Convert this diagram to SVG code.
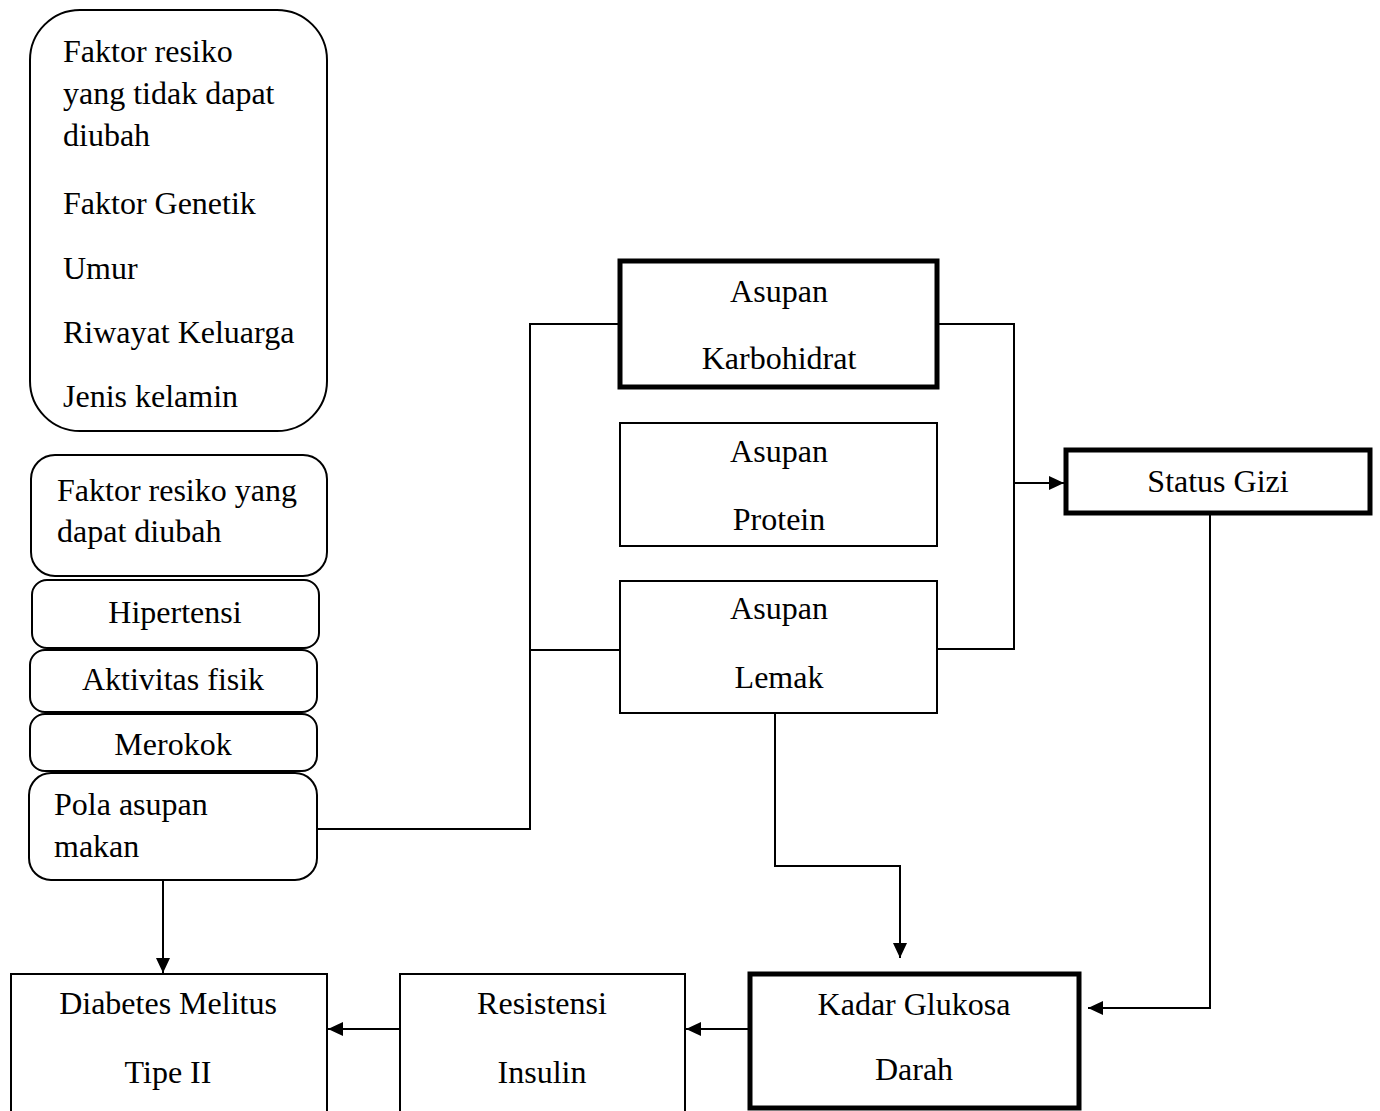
<svg xmlns="http://www.w3.org/2000/svg" width="1380" height="1111" viewBox="0 0 1380 1111">
<style>
.box{fill:#fff;stroke:#000;stroke-width:2}
.thick{fill:#fff;stroke:#000;stroke-width:5}
.t{font-family:"Liberation Serif","Times New Roman",serif;font-size:32px;fill:#000}
.c{text-anchor:middle}
.ln{fill:none;stroke:#000;stroke-width:2}
</style>
<defs>
<marker id="arr" markerUnits="userSpaceOnUse" markerWidth="16" markerHeight="14" refX="15" refY="7" orient="auto">
<path d="M0,0 L15,7 L0,14 Z" fill="#000"/>
</marker>
</defs>
<rect width="1380" height="1111" fill="#fff"/>

<g id="faktor-tidak-diubah">
<rect class="box" x="30" y="10" width="297" height="421" rx="50" ry="50"/>
<text class="t" x="63" y="62">Faktor resiko</text>
<text class="t" x="63" y="104">yang tidak dapat</text>
<text class="t" x="63" y="146">diubah</text>
<text class="t" x="63" y="214">Faktor Genetik</text>
<text class="t" x="63" y="279">Umur</text>
<text class="t" x="63" y="343">Riwayat Keluarga</text>
<text class="t" x="63" y="407">Jenis kelamin</text>
</g>

<g id="faktor-dapat-diubah">
<rect class="box" x="31" y="455" width="296" height="121" rx="24" ry="24"/>
<text class="t" x="57" y="501">Faktor resiko yang</text>
<text class="t" x="57" y="542">dapat diubah</text>
</g>

<g id="hipertensi">
<rect class="box" x="32" y="580" width="287" height="68" rx="15" ry="15"/>
<text class="t c" x="175" y="623">Hipertensi</text>
</g>

<g id="aktivitas">
<rect class="box" x="30" y="650" width="287" height="62" rx="15" ry="15"/>
<text class="t c" x="173" y="690">Aktivitas fisik</text>
</g>

<g id="merokok">
<rect class="box" x="30" y="714" width="287" height="57" rx="15" ry="15"/>
<text class="t c" x="173" y="755">Merokok</text>
</g>

<g id="pola">
<rect class="box" x="29" y="773" width="288" height="107" rx="22" ry="22"/>
<text class="t" x="54" y="815">Pola asupan</text>
<text class="t" x="54" y="857">makan</text>
</g>

<g id="karbohidrat">
<rect class="thick" x="620" y="261" width="317" height="126"/>
<text class="t c" x="779" y="302">Asupan</text>
<text class="t c" x="779" y="369">Karbohidrat</text>
</g>

<g id="protein">
<rect class="box" x="620" y="423" width="317" height="123"/>
<text class="t c" x="779" y="462">Asupan</text>
<text class="t c" x="779" y="530">Protein</text>
</g>

<g id="lemak">
<rect class="box" x="620" y="581" width="317" height="132"/>
<text class="t c" x="779" y="619">Asupan</text>
<text class="t c" x="779" y="688">Lemak</text>
</g>

<g id="status-gizi">
<rect class="thick" x="1066" y="450" width="304" height="63"/>
<text class="t c" x="1218" y="492">Status Gizi</text>
</g>

<g id="kadar-glukosa">
<rect class="thick" x="750" y="974" width="329" height="134"/>
<text class="t c" x="914" y="1015">Kadar Glukosa</text>
<text class="t c" x="914" y="1080">Darah</text>
</g>

<g id="resistensi">
<rect class="box" x="400" y="974" width="285" height="150"/>
<text class="t c" x="542" y="1014">Resistensi</text>
<text class="t c" x="542" y="1083">Insulin</text>
</g>

<g id="diabetes">
<rect class="box" x="11" y="974" width="316" height="150"/>
<text class="t c" x="168" y="1014">Diabetes Melitus</text>
<text class="t c" x="168" y="1083">Tipe II</text>
</g>

<g id="connectors">
<polyline class="ln" points="317,829 530,829 530,324 619,324"/>
<line class="ln" x1="530" y1="650" x2="620" y2="650"/>
<polyline class="ln" points="937,324 1014,324 1014,649 937,649"/>
<line class="ln" x1="1014" y1="483" x2="1064" y2="483" marker-end="url(#arr)"/>
<polyline class="ln" points="1210,513 1210,1008 1088,1008" marker-end="url(#arr)"/>
<polyline class="ln" points="775,713 775,866 900,866 900,958" marker-end="url(#arr)"/>
<line class="ln" x1="749" y1="1029" x2="686" y2="1029" marker-end="url(#arr)"/>
<line class="ln" x1="400" y1="1029" x2="328" y2="1029" marker-end="url(#arr)"/>
<line class="ln" x1="163" y1="880" x2="163" y2="973" marker-end="url(#arr)"/>
</g>
</svg>
